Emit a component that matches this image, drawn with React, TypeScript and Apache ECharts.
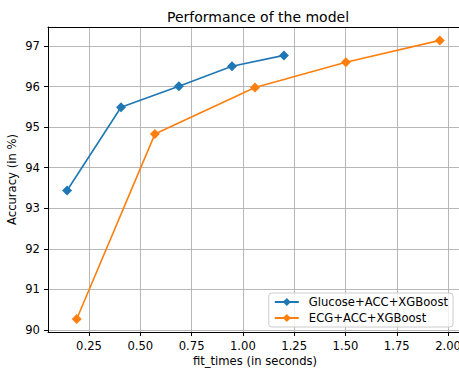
import React, { useEffect, useRef } from "react";
import * as echarts from "echarts";

const glucoseX = [0.143, 0.406, 0.688, 0.947, 1.2];
const glucoseY = [93.44, 95.49, 96.01, 96.5, 96.77];
const ecgX = [0.19, 0.571, 1.059, 1.502, 1.96];
const ecgY = [90.27, 94.83, 95.98, 96.6, 97.14];
const xTicks = [0.25, 0.5, 0.75, 1.0, 1.25, 1.5, 1.75, 2.0];
const yTicks = [90, 91, 92, 93, 94, 95, 96, 97];
const seriesNames = ["Glucose+ACC+XGBoost", "ECG+ACC+XGBoost"];

const FONT = "DejaVu Sans";

export default function App() {
  const ref = useRef<HTMLDivElement>(null);
  useEffect(() => {
    if (!ref.current) return;
    document.body.style.margin = "0";
    const chart = echarts.init(ref.current, undefined, { renderer: "svg" });
    const pairs = (xs: number[], ys: number[]) => xs.map((x, i) => [x, ys[i]]);
    const X_MIN = 0.05;
    const X_MAX = 2.068;
    chart.setOption({
      animation: false,
      backgroundColor: "#ffffff",
      textStyle: { fontFamily: FONT },
      title: {
        text: "Performance of the model",
        left: 253,
        top: 5,
        textAlign: "center",
        textStyle: { fontFamily: FONT, fontSize: 14, fontWeight: "normal", color: "#000" },
      },
      grid: {
        left: 48,
        top: 27,
        width: 414,
        bottom: 38,
        show: false,
        containLabel: false,
        outerBoundsMode: "none",
      },
      legend: {
        right: 6,
        bottom: 43,
        orient: "vertical",
        itemWidth: 24,
        itemHeight: 10,
        itemGap: 4,
        padding: [3, 5, 3, 5],
        borderColor: "#cccccc",
        borderWidth: 1,
        borderRadius: 3,
        backgroundColor: "rgba(255,255,255,0.8)",
        textStyle: { fontFamily: FONT, fontSize: 11.6, color: "#000", padding: [0, 0, 0, 5] },
        data: seriesNames,
      },
      xAxis: [
        {
          type: "value",
          position: "bottom",
          min: X_MIN,
          max: X_MAX,
          name: "fit_times (in seconds)",
          nameLocation: "middle",
          nameGap: 23,
          nameMoveOverlap: false,
          nameTextStyle: { fontFamily: FONT, fontSize: 11.6, color: "#000" },
          axisLine: { show: true, onZero: false, lineStyle: { color: "#000", width: 1 } },
          axisTick: { show: true, length: 4, inside: false, lineStyle: { color: "#000" }, customValues: xTicks },
          axisLabel: {
            customValues: xTicks,
            fontFamily: FONT,
            fontSize: 11.6,
            color: "#000",
            margin: 8,
            formatter: (v: number) => v.toFixed(2),
          },
          splitLine: { show: true, lineStyle: { color: "#b0b0b0", width: 0.9 } },
        },
        {
          type: "value",
          position: "top",
          min: X_MIN,
          max: X_MAX,
          axisLine: { show: true, onZero: false, lineStyle: { color: "#000", width: 1 } },
          axisTick: { show: false },
          axisLabel: { show: false },
          splitLine: { show: false },
        },
      ],
      yAxis: {
        type: "value",
        min: 89.95,
        max: 97.47,
        name: "Accuracy (in %)",
        nameLocation: "middle",
        nameGap: 30,
        nameMoveOverlap: false,
        nameTextStyle: { fontFamily: FONT, fontSize: 11.6, color: "#000" },
        axisLine: { show: true, onZero: false, lineStyle: { color: "#000", width: 1 } },
        axisTick: { show: true, length: 4, inside: false, lineStyle: { color: "#000" }, customValues: yTicks },
        axisLabel: {
          customValues: yTicks,
          fontFamily: FONT,
          fontSize: 11.6,
          color: "#000",
          margin: 8,
        },
        splitLine: { show: true, lineStyle: { color: "#b0b0b0", width: 0.9 } },
      },
      series: [
        {
          name: seriesNames[0],
          type: "line",
          xAxisIndex: 0,
          data: pairs(glucoseX, glucoseY),
          symbol: "diamond",
          symbolSize: 10,
          showAllSymbol: true,
          color: "#1f77b4",
          lineStyle: { width: 1.6, color: "#1f77b4" },
          itemStyle: { color: "#1f77b4" },
        },
        {
          name: seriesNames[1],
          type: "line",
          xAxisIndex: 0,
          data: pairs(ecgX, ecgY),
          symbol: "diamond",
          symbolSize: 10,
          showAllSymbol: true,
          color: "#ff7f0e",
          lineStyle: { width: 1.6, color: "#ff7f0e" },
          itemStyle: { color: "#ff7f0e" },
        },
      ],
    });
    return () => chart.dispose();
  }, []);
  return <div ref={ref} style={{ width: 459, height: 370, overflow: "hidden" }} />;
}
